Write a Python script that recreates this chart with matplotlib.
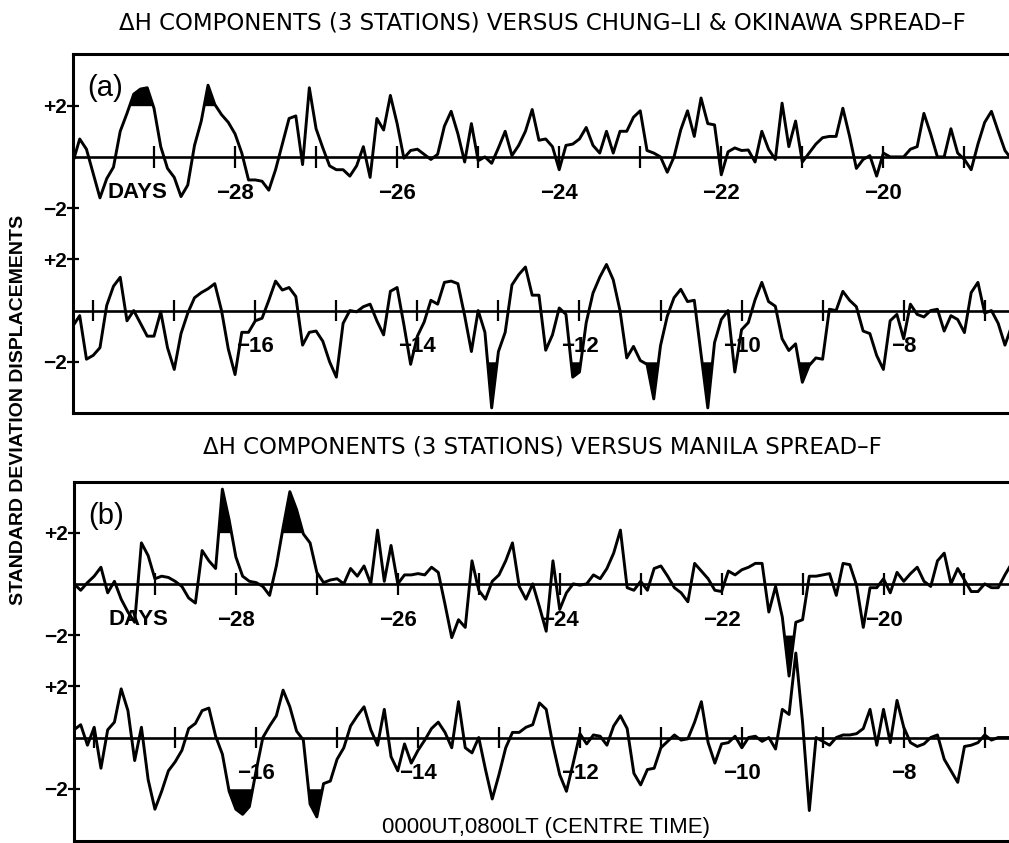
import numpy as np
import matplotlib.pyplot as plt

plt.rcParams["font.family"] = ["Liberation Sans", "DejaVu Sans"]

# 2-hourly standardised values, 12 samples per day
SAMPLES_PER_DAY = 12
ROW_SHIFT = 11.75   # days between start of upper row and start of lower row
ROW_OFFSET = 6.0    # vertical gap between the two rows (std dev units)
THRESHOLD = 2.0

A_TITLE = "ΔH COMPONENTS (3 STATIONS) VERSUS CHUNG–LI & OKINAWA SPREAD–F"
B_TITLE = "ΔH COMPONENTS (3 STATIONS) VERSUS MANILA SPREAD–F"
Y_LABEL = "STANDARD DEVIATION DISPLACEMENTS"
X_LABEL = "0000UT,0800LT (CENTRE TIME)"

upper_start = -30.0
lower_start = -18.25

upper_day_labels = [-28, -26, -24, -22, -20]
lower_day_labels = [-16, -14, -12, -10, -8]

# (a) Chung-Li & Okinawa
a_upper = [
    -0.2, 0.7, 0.3, -0.65, -1.6, -0.85, -0.4, 1.0, 1.7, 2.45, 2.65, 2.7,
    1.9, 0.4, -0.45, -0.8, -1.55, -1.1, 0.45, 1.4, 2.8, 2.05, 1.65, 1.35,
    0.9, 0.15, -0.9, -0.9, -0.95, -1.3, -0.5, 0.5, 1.5, 1.6, -0.3, 2.7,
    1.1, 0.35, -0.35, -0.5, -0.5, -0.75, -0.35, 0.4, -0.8, 1.5, 1.05, 2.4,
    1.3, -0.05, 0.25, 0.3, 0.1, -0.1, 0.1, 1.2, 1.78, 0.9, -0.2, 1.3,
    -0.15, 0.0, -0.25, 0.35, 1.0, 0.05, 0.45, 1.0, 1.85, 0.65, 0.7, 0.4,
    -0.5, 0.45, 0.5, 0.7, 1.15, 0.45, 0.15, 1.0, 0.15, 1.0, 1.0, 1.55,
    1.8, 0.25, 0.15, 0.0, -0.6, 0.0, 1.06, 1.8, 0.8, 2.3, 1.3, 1.25,
    -0.7, 0.2, 0.35, 0.25, 0.27, -0.2, 1.0, 0.3, -0.1, 2.1, 0.4, 1.4,
    -0.2, 0.15, 0.5, 0.75, 0.8, 0.8, 1.9, 0.8, -0.45, -0.1, 0.05, -0.75,
    0.15, 0.0, 0.0, 0.0, 0.3, 0.4, 1.7, 0.9, 0.0, 0.0, 1.1, 0.15,
    -0.1, -0.5, 0.5, 1.35, 1.78, 1.0, 0.25, -0.1,
]
a_lower = [
    -0.6, -0.2, -1.9, -1.75, -1.45, 0.2, 0.95, 1.3, -0.4, 0.0, -0.5, -1.0,
    -1.0, -0.05, -1.45, -2.3, -0.9, -0.1, 0.5, 0.7, 0.85, 1.05, 0.0, -1.5,
    -2.5, -0.85, -0.85, -0.4, -0.3, 0.4, 1.15, 0.8, 0.9, 0.55, -1.35, -0.85,
    -0.8, -1.2, -2.0, -2.6, -0.5, 0.0, -0.05, 0.15, 0.25, -0.4, -0.95, 0.75,
    0.9, -0.55, -2.1, -1.0, -0.45, 0.4, 0.25, 1.1, 1.15, 1.05, -0.2, -1.6,
    0.0, -0.85, -3.8, -1.6, -0.85, 1.0, 1.4, 1.7, 0.6, 0.6, -1.55, -0.95,
    0.1, -0.15, -2.6, -2.4, -0.47, 0.68, 1.3, 1.8, 1.2, 0.0, -1.85, -1.4,
    -1.95, -2.1, -3.45, -1.37, -0.22, 0.5, 0.83, 0.35, 0.4, -1.7, -3.8, -1.25,
    -0.35, 0.0, -2.4, -0.75, -0.47, 0.42, 1.1, 0.35, 0.17, -1.1, -1.56, -1.3,
    -2.8, -2.15, -1.85, -1.9, 0.05, 0.0, 0.75, 0.4, 0.15, -0.8, -0.9, -1.75,
    -2.3, -0.4, -0.15, -1.1, 0.25, -0.15, -0.25, 0.0, 0.05, -0.8, -0.2, -0.35,
    -0.86, 0.7, 1.1, -0.1, 0.0, -0.5, -1.35, -0.6,
]
# (start day, end day, +1 above +2 / -1 below -2)
a_upper_fills = [(-29.4, -28.9, 1), (-28.45, -28.2, 1)]
a_lower_fills = [(-13.3, -12.9, -1), (-12.2, -11.9, -1), (-11.2, -10.9, -1),
                 (-10.55, -10.3, -1), (-9.4, -9.05, -1)]

# (b) Manila
b_upper = [
    0.0, -0.25, 0.05, 0.3, 0.65, -0.35, 0.1, -0.6, -1.1, -1.5, 1.6, 1.1,
    0.2, 0.3, 0.25, 0.1, -0.1, -0.55, -0.75, 1.3, 0.9, 0.6, 3.7, 2.5,
    1.05, 0.3, 0.1, 0.05, -0.1, -0.45, 0.7, 2.2, 3.6, 2.9, 1.95, 1.6,
    0.45, 0.05, 0.15, 0.2, 0.0, 0.6, 0.3, 0.7, 0.0, 2.1, 0.1, 1.5,
    0.0, 0.35, 0.35, 0.4, 0.35, 0.65, 0.45, -0.8, -2.1, -1.4, -1.7, 0.9,
    -0.25, -0.6, 0.1, 0.35, 0.9, 1.6, -0.1, -0.6, 0.0, -0.9, -1.85, 0.9,
    -1.0, -0.35, 0.0, -0.05, 0.0, 0.35, 0.2, 0.6, 1.2, 2.1, -0.15, -0.25,
    0.1, -0.25, 0.6, 0.7, 0.3, -0.15, -0.35, -0.7, 0.8, 0.5, 0.2, -0.25,
    -0.3, 0.5, 0.35, 0.55, 0.65, 0.8, 0.8, -1.1, -0.1, -1.3, -3.6, -1.5,
    -1.4, 0.3, 0.3, 0.35, 0.4, -0.45, 0.8, 0.75, -0.05, -1.7, -0.15, -0.15,
    0.2, -0.35, 0.45, 0.1, 0.4, 0.65, 0.1, -0.1, 0.9, 1.2, 0.0, 0.6,
    0.15, -0.3, -0.3, 0.0, -0.15, -0.15, 0.35, 0.8,
]
b_lower = [
    0.3, 0.5, -0.3, 0.4, -1.2, 0.3, 0.6, 1.9, 1.05, -0.9, 0.4, -1.65,
    -2.8, -2.1, -1.3, -0.95, -0.5, 0.35, 0.55, 1.05, 1.15, 0.05, -0.65, -2.1,
    -2.8, -3.0, -2.7, -1.3, 0.0, 0.45, 0.85, 1.85, 1.2, 0.25, -0.1, -2.6,
    -3.1, -1.8, -1.7, -0.85, -0.4, 0.45, 0.85, 1.2, 0.3, -0.3, 1.1, -0.75,
    -1.3, -0.25, -1.0, -0.5, -0.1, 0.35, 0.6, 0.2, -0.4, 1.4, -0.4, -0.6,
    0.0, -1.25, -2.4, -1.45, -0.4, 0.2, 0.2, 0.4, 0.5, 1.35, 1.1, -0.3,
    -1.45, -2.1, -1.0, 0.15, -0.25, 0.1, 0.05, -0.3, 0.45, 0.85, 0.35, -1.4,
    -1.85, -1.25, -1.2, -0.4, -0.15, 0.1, -0.1, -0.05, 0.6, 1.4, -0.2, -1.0,
    -0.25, -0.2, 0.05, -0.4, 0.0, 0.05, -0.15, 0.0, -0.45, 1.1, 0.9, 3.3,
    0.6, -2.85, 0.0, -0.15, -0.3, 0.0, 0.1, 0.1, 0.15, 0.35, 1.1, -0.3,
    1.1, -0.2, 1.45, 0.4, -0.2, -0.35, -0.25, 0.0, 0.1, -0.85, -1.3, -1.75,
    -0.35, -0.3, -0.2, 0.1, -0.1, 0.0, 0.0, 0.0,
]
b_upper_fills = [(-28.35, -27.95, 1), (-27.5, -27.1, 1), (-21.3, -21.05, -1)]
b_lower_fills = [(-16.45, -15.9, -1), (-15.45, -15.1, -1)]


def draw_row(ax, start, values, shift, offset, fills, labels, first_row):
    t = start + np.arange(len(values)) / SAMPLES_PER_DAY
    v = np.asarray(values, dtype=float)
    x = t - shift
    y = v - offset

    ax.axhline(-offset, color="black", lw=1.9, zorder=2)
    days = np.arange(np.ceil(t[0]), np.floor(t[-1]) + 1)
    ax.vlines(days - shift, -offset - 0.42, -offset + 0.42, color="black", lw=1.6, zorder=2)

    ax.plot(x, y, color="black", lw=2.1, zorder=3)
    for t0, t1, sign in fills:
        window = (t >= t0) & (t <= t1)
        ax.fill_between(x, y, sign * THRESHOLD - offset,
                        where=window & (sign * v > THRESHOLD),
                        interpolate=True, color="black", lw=0, zorder=3)

    for day in labels:
        ax.text(day - shift, -offset - 1.42, f"−{abs(day)}", ha="center", va="center",
                fontsize=16, fontweight="bold", zorder=4)
    if first_row:
        ax.text(-29.2, -offset - 1.4, "DAYS", ha="center", va="center",
                fontsize=16, fontweight="bold", zorder=4)


def draw_panel(ax, upper, lower, upper_fills, lower_fills, tag, ylim):
    draw_row(ax, upper_start, upper, 0.0, 0.0, upper_fills, upper_day_labels, True)
    draw_row(ax, lower_start, lower, ROW_SHIFT, ROW_OFFSET, lower_fills, lower_day_labels, False)

    ax.set_xlim(-30.0, -18.45)
    ax.set_ylim(*ylim)
    ax.set_xticks([])
    ax.set_yticks([2, -2, 2 - ROW_OFFSET, -2 - ROW_OFFSET])
    ax.set_yticklabels(["+2", "−2", "+2", "−2"], fontsize=15, fontweight="bold")
    ax.tick_params(axis="y", direction="inout", length=8, width=1.6, pad=0)
    ax.spines["right"].set_visible(False)
    for side in ("top", "left", "bottom"):
        ax.spines[side].set_linewidth(2.2)
    ax.text(0.034, 0.905, tag, transform=ax.transAxes, ha="center", va="center",
            fontsize=21)


fig = plt.figure(figsize=(10.09, 8.43), dpi=100)
ax_a = fig.add_axes([0.0723, 0.5101, 0.9277, 0.4259])
ax_b = fig.add_axes([0.0733, 0.0024, 0.9267, 0.4259])

draw_panel(ax_a, a_upper, a_lower, a_upper_fills, a_lower_fills, "(a)", (-10.0, 4.02))
draw_panel(ax_b, b_upper, b_lower, b_upper_fills, b_lower_fills, "(b)", (-10.04, 3.98))

fig.text(0.538, 0.9727, A_TITLE, ha="center", va="center", fontsize=16.5, family="DejaVu Sans")
fig.text(0.538, 0.4698, B_TITLE, ha="center", va="center", fontsize=16.5, family="DejaVu Sans")
fig.text(0.0188, 0.5136, Y_LABEL, rotation=90, ha="center", va="center",
         fontsize=14, fontweight="bold")
fig.text(0.541, 0.0178, X_LABEL, ha="center", va="center", fontsize=16)

fig.savefig("out.png", dpi=100)
